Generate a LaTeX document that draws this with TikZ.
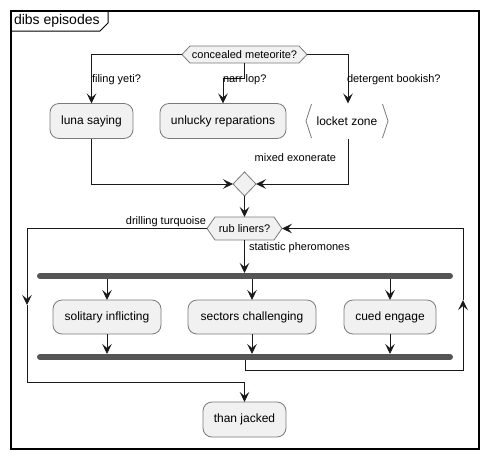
\documentclass[tikz,border=0pt]{standalone}
\usepackage{fontspec}
\setmainfont{Liberation Sans}
\usetikzlibrary{arrows.meta,shapes.geometric}
\definecolor{boxfill}{HTML}{F1F1F1}
\definecolor{boxline}{HTML}{7A7A7A}
\definecolor{barfill}{HTML}{555555}
\begin{document}
\begin{tikzpicture}[x=1pt,y=-1pt,
  every node/.style={inner sep=0pt,outer sep=0pt},
  act/.style={draw=boxline,fill=boxfill,rounded corners=9pt,line width=0.8pt,
    minimum height=35pt,font=\fontsize{12}{14}\selectfont},
  lbl/.style={font=\fontsize{11}{13}\selectfont},
  hexa/.style={draw=boxline,fill=boxfill,line width=0.8pt},
  flow/.style={line width=0.9pt,draw=black!90},
  arr/.style={flow,-{Stealth[length=10pt,width=9.5pt,inset=4pt]}},
  bar/.style={line width=6pt,line cap=round,draw=barfill}]
\useasboundingbox (0,0) rectangle (488,459);

% frame and its title tab
\draw[line width=1.4pt] (11,11) rectangle (479,449);
\draw[line width=1pt] (11,31) -- (100,31) -- (108,23) -- (108,11);
\node[anchor=west,font=\fontsize{14}{16}\selectfont] (title) at (14,21) {dibs episodes};

% first decision
\draw[hexa] (182,54.5) -- (190,46) -- (299,46) -- (307,54.5) -- (299,63) -- (190,63) -- cycle;
\node[font=\fontsize{11}{13}\selectfont,minimum width=125pt,minimum height=17pt] (dec) at (244.5,54.5) {concealed meteorite?};

% three branches
\node[act,minimum width=83pt] (luna) at (91.5,121) {luna saying};
\node[act,minimum width=126pt] (unlucky) at (223,121) {unlucky reparations};
\node[minimum width=82pt,minimum height=35pt,font=\fontsize{12}{14}\selectfont] (locket) at (347,121) {locket zone};
\draw[draw=boxline,line width=0.8pt] (311.5,104) -- (306,121) -- (311.5,138);
\draw[draw=boxline,line width=0.8pt] (382.5,104) -- (388,121) -- (382.5,138);

\coordinate (dl) at (91.5,54.5);
\coordinate (dm1) at (244.5,78);
\coordinate (dm2) at (223,78);
\coordinate (dr) at (348,54.5);
\draw[arr] (dec.west) -- (dl) -- (luna.north);
\draw[arr] (dec.south) -- (dm1) -- (dm2) -- (unlucky.north);
\draw[arr] (dec.east) -- (dr) -- (348,103.5);
\node[lbl,anchor=west] (l1) at (92,80) {filing yeti?};
\node[lbl,anchor=west] (l2) at (223,79.5) {narr lop?};
\node[lbl,anchor=west] (l3) at (347,79.5) {detergent bookish?};

% merge
\node[diamond,draw=boxline,fill=boxfill,line width=0.8pt,minimum width=23pt,minimum height=24pt] (merge) at (244.5,184) {};
\coordinate (ml) at (91.5,184);
\coordinate (mr) at (348,184);
\draw[arr] (luna.south) -- (ml) -- (merge.west);
\draw[arr] (348,138.5) -- (mr) -- (merge.east);
\node[lbl,anchor=east] (l4) at (336,157.5) {mixed exonerate};

% loop decision
\draw[hexa] (207,228.5) -- (215,217) -- (274,217) -- (282,228.5) -- (274,240) -- (215,240) -- cycle;
\node[font=\fontsize{11}{13}\selectfont,minimum width=75pt,minimum height=23pt] (rub) at (244.5,228.5) {rub liners?};
\draw[arr] (merge.south) -- (rub.north);
\node[lbl,anchor=east] (l5) at (206,221.5) {drilling turquoise};
\node[lbl,anchor=west] (l6) at (249,248) {statistic pheromones};

% fork and join bars
\coordinate (fork) at (244.5,273);
\draw[bar] (40,276) -- (450,276);
\draw[arr] (rub.south) -- (fork);
\node[act,minimum width=108pt,minimum height=34pt] (sol) at (107,317) {solitary inflicting};
\node[act,minimum width=128pt,minimum height=34pt] (sec) at (252,317) {sectors challenging};
\node[act,minimum width=92pt,minimum height=34pt] (cue) at (390,317) {cued engage};
\draw[arr] (107,279) -- (sol.north);
\draw[arr] (252,279) -- (sec.north);
\draw[arr] (390,279) -- (cue.north);
\draw[bar] (40,357) -- (450,357);
\draw[arr] (sol.south) -- (107,354);
\draw[arr] (sec.south) -- (252,354);
\draw[arr] (cue.south) -- (390,354);

% loop back to the decision
\coordinate (j1) at (245,360);
\coordinate (j2) at (245,370);
\coordinate (j3) at (463,370);
\coordinate (j4) at (463,300);
\coordinate (j5) at (463,228.5);
\draw[arr] (j1) -- (j2) -- (j3) -- (j4);
\draw[arr] (j4) -- (j5) -- (rub.east);

% exit of the loop
\coordinate (e1) at (27,228.5);
\coordinate (e2) at (27,305);
\coordinate (e3) at (27,382);
\coordinate (e4) at (244.5,382);
\node[act,minimum width=83pt] (than) at (244.5,419.5) {than jacked};
\draw[arr] (rub.west) -- (e1) -- (e2);
\draw[arr] (e2) -- (e3) -- (e4) -- (than.north);
\end{tikzpicture}
\end{document}
